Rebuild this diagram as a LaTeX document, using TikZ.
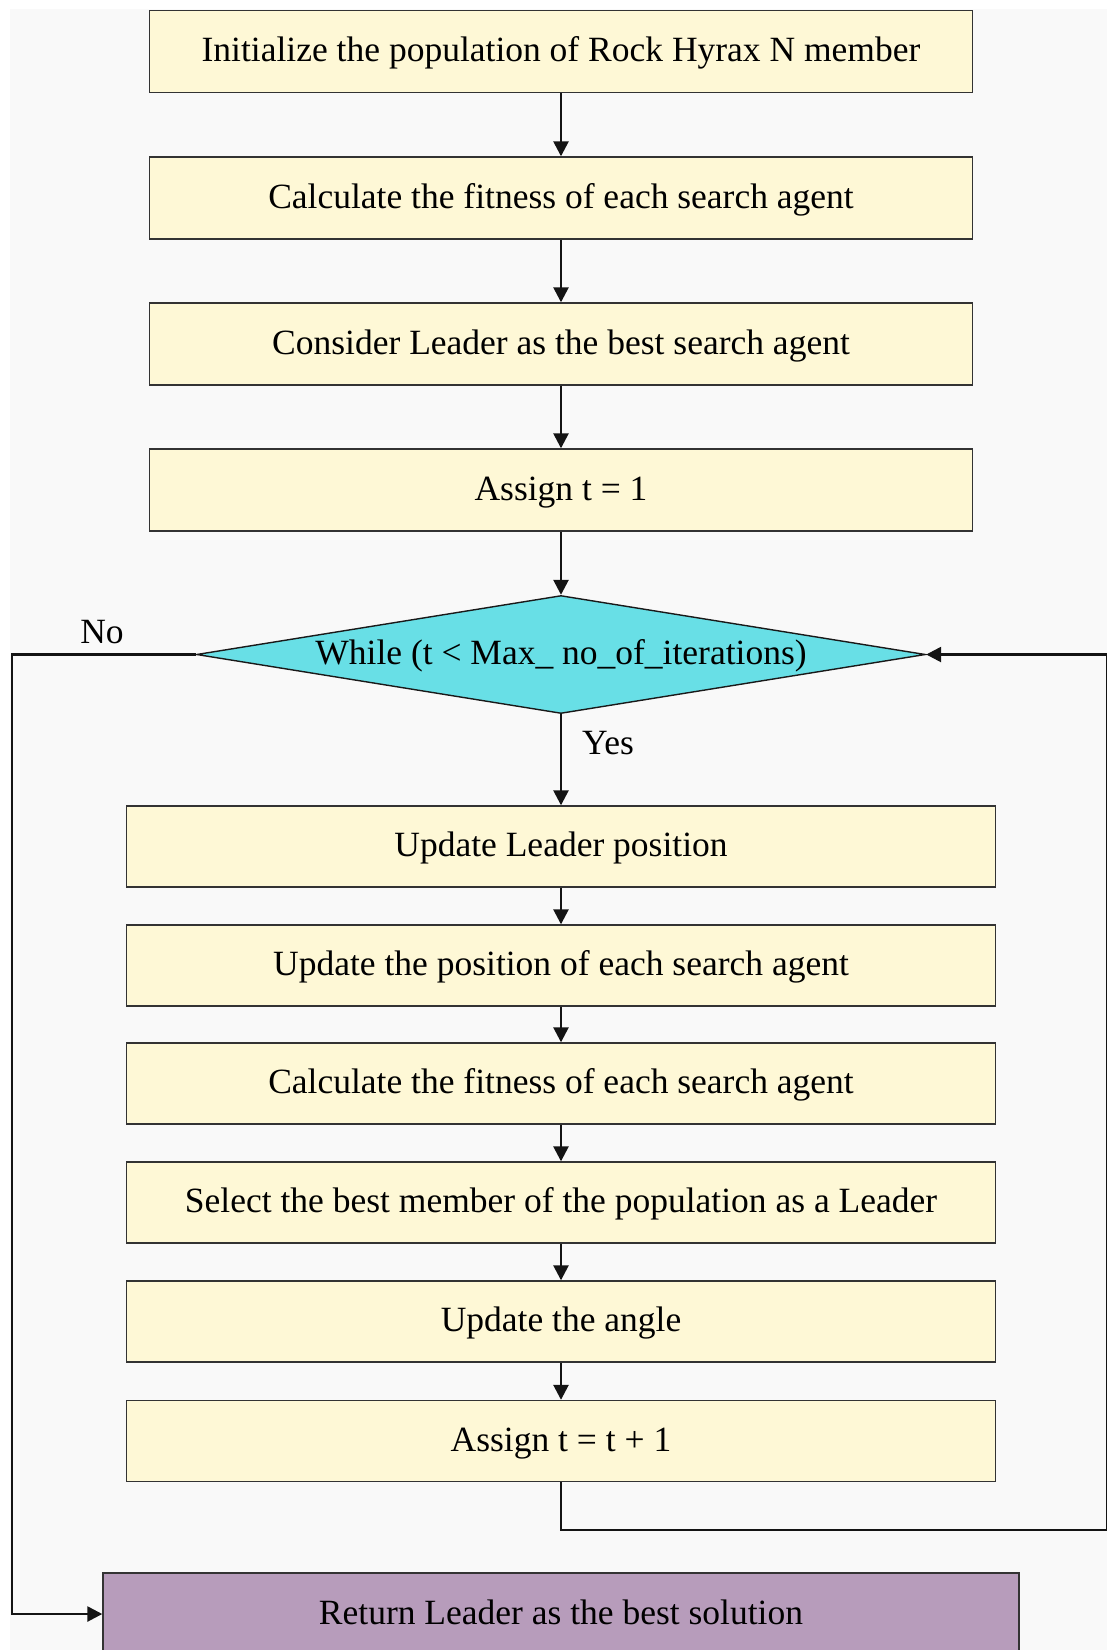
\documentclass[tikz,border=0pt]{standalone}
\usepackage{fontspec}
\setmainfont{Liberation Serif}
\usetikzlibrary{shapes.geometric,arrows.meta}
\definecolor{bgc}{HTML}{F9F9F9}
\definecolor{boxc}{HTML}{FEF8D6}
\definecolor{decc}{HTML}{68DFE6}
\definecolor{endc}{HTML}{B79CBB}
\definecolor{edgec}{HTML}{333333}
\begin{document}
\begin{tikzpicture}[x=1pt,y=-1pt,
  font=\fontsize{35.5}{42}\selectfont,
  txt/.style={text height=26pt,text depth=6pt},
  boxA/.style={txt,draw=edgec,line width=1.4pt,fill=boxc,minimum width=823pt,minimum height=82pt,inner sep=0pt},
  boxB/.style={txt,draw=edgec,line width=1.4pt,fill=boxc,minimum width=869pt,minimum height=81pt,inner sep=0pt},
  arr/.style={line width=2.6pt,draw=black!92,-{Triangle[length=15pt,width=15pt]}},
  lbl/.style={inner sep=0pt}]
\useasboundingbox (0,0) rectangle (1107,1650);
\fill[bgc] (10,9) rectangle (1107,1650);
\node[boxA] (b1) at (561,51.5) {Initialize the population of Rock Hyrax N member};
\node[boxA] (b2) at (561,198) {Calculate the fitness of each search agent};
\node[boxA] (b3) at (561,344) {Consider Leader as the best search agent};
\node[boxA] (b4) at (561,490) {Assign t = 1};
\node[diamond,draw=black!90,line width=1.4pt,fill=decc,minimum width=729pt,minimum height=118pt,inner sep=0pt] (dec) at (561,654.5) {};
\node[lbl,txt] (dect) at (dec.center) {While (t < Max\_ no\_of\_iterations)};
\node[boxB] (b5) at (561,846.5) {Update Leader position};
\node[boxB] (b6) at (561,965.5) {Update the position of each search agent};
\node[boxB] (b7) at (561,1083.5) {Calculate the fitness of each search agent};
\node[boxB] (b8) at (561,1202.5) {Select the best member of the population as a Leader};
\node[boxB] (b9) at (561,1321.5) {Update the angle};
\node[boxB] (b10) at (561,1441) {Assign t = t + 1};
\node[txt,draw=edgec,line width=1.4pt,fill=endc,minimum width=916pt,minimum height=82pt,inner sep=0pt] (ret) at (561,1614) {Return Leader as the best solution};
\draw[arr] (b1) -- (b2);
\draw[arr] (b2) -- (b3);
\draw[arr] (b3) -- (b4);
\draw[arr] (b4) -- (dec.north);
\draw[arr] (dec.south) -- (b5);
\draw[arr] (b5) -- (b6);
\draw[arr] (b6) -- (b7);
\draw[arr] (b7) -- (b8);
\draw[arr] (b8) -- (b9);
\draw[arr] (b9) -- (b10);
\coordinate (r1) at (1107,1530);
\coordinate (r2) at (1107,654.5);
\draw[arr] (b10.south) |- (r1) -- (r2) -- (dec.east);
\coordinate (l1) at (12,654.5);
\coordinate (l2) at (12,1614);
\draw[arr] (dec.west) -- (l1) -- (l2) -- (ret.west);
\node[lbl] (no) at (102,632) {No};
\node[lbl] (yes) at (608,743) {Yes};
\end{tikzpicture}
\end{document}
